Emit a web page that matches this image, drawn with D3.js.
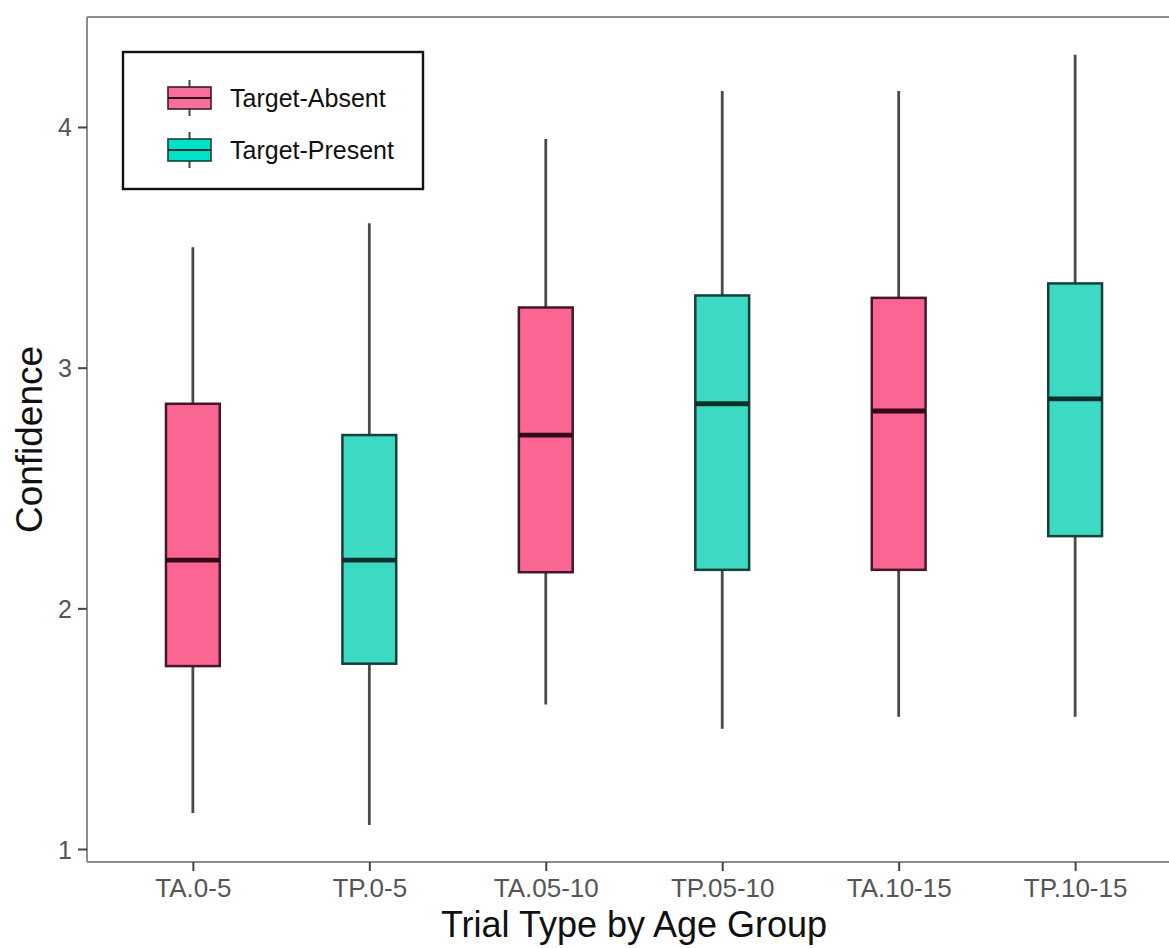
<!DOCTYPE html>
<html>
<head>
<meta charset="utf-8">
<script src="https://cdn.jsdelivr.net/npm/d3@7"></script>
<style>
  html, body { margin: 0; padding: 0; background: #fff; }
  svg { display: block; font-family: "Liberation Sans", Arial, Helvetica, sans-serif; }
</style>
</head>
<body>
<svg id="chart" width="1169" height="948"></svg>
<script>
// ---- data ----
const categories = ["TA.0-5", "TP.0-5", "TA.05-10", "TP.05-10", "TA.10-15", "TP.10-15"];
const trialType = ["Target-Absent", "Target-Present", "Target-Absent", "Target-Present", "Target-Absent", "Target-Present"];
const whiskerLow  = [1.15, 1.10, 1.60, 1.50, 1.55, 1.55];
const q1          = [1.76, 1.77, 2.15, 2.16, 2.16, 2.30];
const median      = [2.20, 2.20, 2.72, 2.85, 2.82, 2.87];
const q3          = [2.85, 2.72, 3.25, 3.30, 3.29, 3.35];
const whiskerHigh = [3.50, 3.60, 3.95, 4.15, 4.15, 4.30];
const yTicks = [1, 2, 3, 4];
const legendLabels = ["Target-Absent", "Target-Present"];

const fillColor = { "Target-Absent": "#fa6591", "Target-Present": "#3cd9c3" };
const strokeColor = { "Target-Absent": "#44182a", "Target-Present": "#17403a" };
const medianColor = { "Target-Absent": "#33091a", "Target-Present": "#0b302b" };
const legendFill = { "Target-Absent": "#f7709b", "Target-Present": "#00e3c8" };

const boxes = categories.map((c, i) => ({
  cat: c, type: trialType[i], lo: whiskerLow[i], q1: q1[i], med: median[i], q3: q3[i], hi: whiskerHigh[i]
}));

// ---- layout ----
const svg = d3.select("#chart");
const panel = { left: 87, right: 1181, top: 17, bottom: 862 };

const x = d3.scalePoint().domain(categories).range([panel.left, panel.right]).padding(0.6);
const y = d3.scaleLinear().domain([0.946, 4.457]).range([panel.bottom, panel.top]);
const boxW = x.step() * 0.305;

svg.append("rect").attr("width", 1169).attr("height", 948).attr("fill", "#fff");

// whiskers
const g = svg.append("g");
g.selectAll("line.whisker").data(boxes).join("line")
  .attr("class", "whisker")
  .attr("x1", d => x(d.cat)).attr("x2", d => x(d.cat))
  .attr("y1", d => y(d.lo)).attr("y2", d => y(d.hi))
  .attr("stroke", "#4a4a4a").attr("stroke-width", 2.8);

// boxes
g.selectAll("rect.box").data(boxes).join("rect")
  .attr("class", "box")
  .attr("x", d => x(d.cat) - boxW / 2)
  .attr("width", boxW)
  .attr("y", d => y(d.q3))
  .attr("height", d => y(d.q1) - y(d.q3))
  .attr("fill", d => fillColor[d.type])
  .attr("stroke", d => strokeColor[d.type])
  .attr("stroke-width", 2.5);

// medians
g.selectAll("line.median").data(boxes).join("line")
  .attr("class", "median")
  .attr("x1", d => x(d.cat) - boxW / 2).attr("x2", d => x(d.cat) + boxW / 2)
  .attr("y1", d => y(d.med)).attr("y2", d => y(d.med))
  .attr("stroke", d => medianColor[d.type]).attr("stroke-width", 4.8);

// panel top border
svg.append("line")
  .attr("x1", panel.left).attr("x2", panel.right)
  .attr("y1", panel.top).attr("y2", panel.top)
  .attr("stroke", "#8c8c8c").attr("stroke-width", 2);

// axes
const yAxis = svg.append("g")
  .attr("transform", `translate(${panel.left},0)`)
  .call(d3.axisLeft(y).tickValues(yTicks).tickSize(9).tickPadding(6).tickFormat(d3.format("d")));
const xAxis = svg.append("g")
  .attr("transform", `translate(0,${panel.bottom})`)
  .call(d3.axisBottom(x).tickSize(9).tickPadding(5));

[yAxis, xAxis].forEach(ax => {
  ax.select(".domain").attr("stroke", "#8c8c8c").attr("stroke-width", 2);
  ax.selectAll(".tick line").attr("stroke", "#444").attr("stroke-width", 2);
  ax.selectAll(".tick text").attr("fill", "#555")
    .style("font-family", "'Liberation Sans', Arial, sans-serif");
});
yAxis.selectAll(".tick text").style("font-size", "25px");
xAxis.selectAll(".tick text").style("font-size", "26px");
// domain lines span the full panel
yAxis.select(".domain").attr("d", `M0,${panel.top}V${panel.bottom}`);
xAxis.select(".domain").attr("d", `M${panel.left},0H${panel.right}`);
yAxis.selectAll(".tick text").attr("dy", "0.36em");
xAxis.selectAll(".tick text").attr("dy", "0.82em");

// axis titles
svg.append("text")
  .attr("x", (panel.left + panel.right) / 2).attr("y", 937)
  .attr("text-anchor", "middle").attr("fill", "#111")
  .style("font-size", "36px").text("Trial Type by Age Group");
svg.append("text")
  .attr("transform", `translate(42,${(panel.top + panel.bottom) / 2}) rotate(-90)`)
  .attr("text-anchor", "middle").attr("fill", "#111")
  .style("font-size", "37px").text("Confidence");

// legend
const lg = svg.append("g");
lg.append("rect").attr("x", 123).attr("y", 52).attr("width", 300).attr("height", 137)
  .attr("fill", "#fff").attr("stroke", "#111").attr("stroke-width", 2.4);
const keyY = d3.scalePoint().domain(legendLabels).range([98, 150]);
const keys = lg.selectAll("g.key").data(legendLabels).join("g").attr("class", "key");
keys.append("line")
  .attr("x1", 189.5).attr("x2", 189.5)
  .attr("y1", d => keyY(d) - 18).attr("y2", d => keyY(d) + 18)
  .attr("stroke", "#444").attr("stroke-width", 2);
keys.append("rect")
  .attr("x", 168).attr("width", 43)
  .attr("y", d => keyY(d) - 11).attr("height", 22)
  .attr("fill", d => legendFill[d]).attr("stroke", d => strokeColor[d]).attr("stroke-width", 1.6);
keys.append("line")
  .attr("x1", 168).attr("x2", 211)
  .attr("y1", d => keyY(d)).attr("y2", d => keyY(d))
  .attr("stroke", d => medianColor[d]).attr("stroke-width", 2);
keys.append("text")
  .attr("x", 230).attr("y", d => keyY(d) + 9)
  .attr("fill", "#111").style("font-size", "25px")
  .text(d => d);
</script>
</body>
</html>
